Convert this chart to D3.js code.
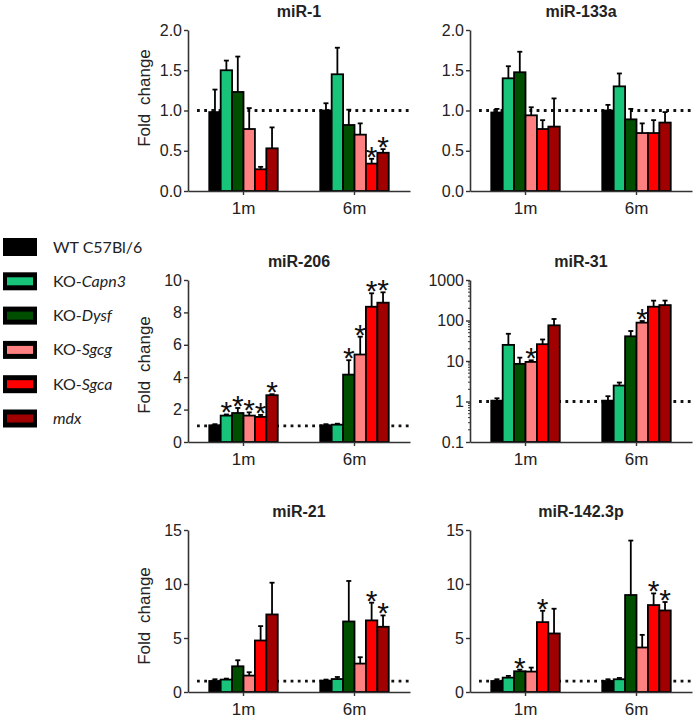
<!DOCTYPE html>
<html><head><meta charset="utf-8">
<script src="https://cdn.jsdelivr.net/npm/d3@7"></script>
<style>
body{margin:0;background:#fff;}
svg{display:block;font-family:"Liberation Sans",Arial,sans-serif;}
</style>
</head><body><svg id="c" width="697" height="721"></svg>
<script>
const groups = ["1m", "6m"];
const strains = ["WT C57Bl/6", "KO-Capn3", "KO-Dysf", "KO-Sgcg", "KO-Sgca", "mdx"];
const legendPrefix = ["WT C57Bl/6", "KO-", "KO-", "KO-", "KO-", ""];
const legendItalic = ["", "Capn3", "Dysf", "Sgcg", "Sgca", "mdx"];
const colors = ["#000000", "#17c47a", "#004f00", "#ff8080", "#ff0000", "#a00000"];

// mean values per group (1m, 6m), strain order as above
const mir1Mean = [[0.98, 1.50, 1.23, 0.77, 0.27, 0.53], [1.00, 1.45, 0.82, 0.70, 0.34, 0.475]];
const mir1Err = [[0.28, 0.12, 0.44, 0.26, 0.03, 0.26], [0.09, 0.33, 0.19, 0.14, 0.06, 0.045]];
const mir1Stars = [[], [4, 5]];
const mir1Ticks = [0, 0.5, 1.0, 1.5, 2.0];

const mir133Mean = [[0.975, 1.40, 1.475, 0.94, 0.77, 0.80], [1.00, 1.30, 0.89, 0.72, 0.72, 0.85]];
const mir133Err = [[0.045, 0.15, 0.255, 0.10, 0.11, 0.35], [0.07, 0.16, 0.13, 0.12, 0.16, 0.13]];
const mir133Stars = [[], []];
const mir133Ticks = [0, 0.5, 1.0, 1.5, 2.0];

const mir206Mean = [[1.03, 1.63, 1.79, 1.63, 1.55, 2.89], [1.03, 1.07, 4.16, 5.40, 8.35, 8.60]];
const mir206Err = [[0.07, 0.07, 0.31, 0.20, 0.12, 0.06], [0.07, 0.06, 0.89, 1.10, 0.83, 0.64]];
const mir206Stars = [[1, 2, 3, 4, 5], [2, 3, 4, 5]];
const mir206Ticks = [0, 2, 4, 6, 8, 10];

const mir31Mean = [[1.05, 25, 8.5, 9.5, 26, 76], [1.05, 2.48, 40.7, 88.5, 219, 240]];
const mir31Err = [[0.15, 22, 3.6, 0.9, 8, 33], [0.3, 0.46, 14.3, 8.5, 90, 70]];
const mir31Stars = [[3], [3]];
const mir31Ticks = [0.1, 1, 10, 100, 1000];

const mir21Mean = [[1.02, 1.15, 2.38, 1.52, 4.77, 7.18], [1.05, 1.20, 6.53, 2.63, 6.63, 6.04]];
const mir21Err = [[0.16, 0.09, 0.56, 0.31, 1.33, 2.94], [0.10, 0.19, 3.75, 0.59, 1.64, 1.05]];
const mir21Stars = [[], [4, 5]];
const mir21Ticks = [0, 5, 10, 15];

const mir142Mean = [[1.02, 1.33, 1.92, 1.89, 6.47, 5.42], [1.02, 1.18, 8.98, 4.12, 8.05, 7.55]];
const mir142Err = [[0.16, 0.16, 0.15, 0.37, 1.05, 2.29], [0.16, 0.12, 5.04, 1.17, 1.08, 0.78]];
const mir142Stars = [[2, 4], [4, 5]];
const mir142Ticks = [0, 5, 10, 15];

const panels = [
  {title: "miR-1", mean: mir1Mean, err: mir1Err, stars: mir1Stars, ticks: mir1Ticks, log: false, fmt: d3.format(".1f"), col: 0, row: 0},
  {title: "miR-133a", mean: mir133Mean, err: mir133Err, stars: mir133Stars, ticks: mir133Ticks, log: false, fmt: d3.format(".1f"), col: 1, row: 0},
  {title: "miR-206", mean: mir206Mean, err: mir206Err, stars: mir206Stars, ticks: mir206Ticks, log: false, fmt: d3.format("d"), col: 0, row: 1},
  {title: "miR-31", mean: mir31Mean, err: mir31Err, stars: mir31Stars, ticks: mir31Ticks, log: true, fmt: d => String(d), col: 1, row: 1},
  {title: "miR-21", mean: mir21Mean, err: mir21Err, stars: mir21Stars, ticks: mir21Ticks, log: false, fmt: d3.format("d"), col: 0, row: 2},
  {title: "miR-142.3p", mean: mir142Mean, err: mir142Err, stars: mir142Stars, ticks: mir142Ticks, log: false, fmt: d3.format("d"), col: 1, row: 2}
];

// layout
const colX = [188, 470];
const plotW = 222;
const rowY = [[30, 191], [280, 442], [530, 692]];
const ylabelY = [98, 365, 616];
const axisColor = "#333";
const textColor = "#222";

const svg = d3.select("#c");

panels.forEach(p => {
  const x0 = colX[p.col];
  const [top, bottom] = rowY[p.row];
  const g = svg.append("g");

  const xg = d3.scaleBand().domain(groups).range([x0, x0 + plotW]).paddingInner(0.383).paddingOuter(0.1915);
  const xs = d3.scaleBand().domain(d3.range(strains.length)).range([0, xg.bandwidth()]);
  const y = p.log
    ? d3.scaleLog().domain([p.ticks[0], p.ticks[p.ticks.length - 1]]).range([bottom, top])
    : d3.scaleLinear().domain([0, p.ticks[p.ticks.length - 1]]).range([bottom, top]);
  const base = p.log ? p.ticks[0] : 0;

  // dotted reference line at 1
  g.append("line")
    .attr("x1", x0 + 9).attr("x2", x0 + plotW)
    .attr("y1", y(1)).attr("y2", y(1))
    .attr("stroke", "#111").attr("stroke-width", 2.8)
    .attr("stroke-dasharray", "2.8,4.4");

  groups.forEach((grp, gi) => {
    const gg = g.append("g");
    const rows = p.mean[gi].map((m, i) => ({i, m, e: p.err[gi][i]}));
    // error bars
    rows.forEach(r => {
      const cx = xg(grp) + xs(r.i) + xs.bandwidth() / 2;
      gg.append("line").attr("x1", cx).attr("x2", cx)
        .attr("y1", y(r.m)).attr("y2", y(r.m + r.e))
        .attr("stroke", "#000").attr("stroke-width", 1.8);
      gg.append("line").attr("x1", cx - 2.5).attr("x2", cx + 2.5)
        .attr("y1", y(r.m + r.e)).attr("y2", y(r.m + r.e))
        .attr("stroke", "#000").attr("stroke-width", 1.8);
    });
    gg.selectAll("rect").data(rows).join("rect")
      .attr("x", d => xg(grp) + xs(d.i))
      .attr("width", xs.bandwidth())
      .attr("y", d => y(d.m))
      .attr("height", d => y(base) - y(d.m))
      .attr("fill", d => colors[d.i])
      .attr("stroke", "#000").attr("stroke-width", 1.8);
    p.stars[gi].forEach(i => {
      const cx = xg(grp) + xs(i) + xs.bandwidth() / 2;
      gg.append("text").attr("x", cx).attr("y", y(p.mean[gi][i] + p.err[gi][i]) + 8)
        .attr("text-anchor", "middle").attr("font-size", 30).attr("fill", "#111")
        .text("*");
    });
  });

  // y axis
  const ya = d3.axisLeft(y).tickValues(p.ticks).tickFormat(p.fmt).tickSize(4).tickPadding(2).tickSizeOuter(0);
  const yg = g.append("g").attr("transform", `translate(${x0},0)`).call(ya);
  if (p.log) {
    const minor = [];
    for (let d = 0.1; d < 1000; d *= 10) for (let k = 2; k <= 9; k++) minor.push(d * k);
    yg.selectAll(".minor").data(minor).join("line").attr("class", "minor")
      .attr("x1", -2).attr("x2", 0).attr("y1", d => y(d)).attr("y2", d => y(d))
      .attr("stroke", axisColor).attr("stroke-width", 1);
  }
  // x axis
  const xa = d3.axisBottom(xg).tickSize(4).tickPadding(7).tickSizeOuter(0);
  const xgEl = g.append("g").attr("transform", `translate(0,${bottom})`).call(xa);

  [yg, xgEl].forEach(a => {
    a.attr("font-family", "Liberation Sans, Arial, sans-serif");
    a.select(".domain").attr("stroke", axisColor).attr("stroke-width", 1.6);
    a.selectAll(".tick line").attr("stroke", axisColor).attr("stroke-width", 1.4);
    a.selectAll("text").attr("font-size", 16).attr("fill", textColor);
  });
  xgEl.selectAll("text").attr("font-size", 17);

  // title
  g.append("text").attr("x", x0 + plotW / 2).attr("y", top - 13)
    .attr("text-anchor", "middle").attr("font-weight", "bold").attr("font-size", 16)
    .attr("fill", textColor).text(p.title);

  if (p.col === 0) {
    g.append("text").attr("transform", `translate(150,${ylabelY[p.row]}) rotate(-90)`)
      .attr("text-anchor", "middle").attr("font-size", 17).attr("fill", textColor)
      .attr("word-spacing", 4).text("Fold change");
  }
});

// legend
const leg = svg.append("g");
strains.forEach((s, i) => {
  const cy = 247 + i * 34.3;
  leg.append("rect").attr("x", 3).attr("y", cy - 9).attr("width", 34).attr("height", 18).attr("fill", "#000");
  leg.append("rect").attr("x", 7).attr("y", cy - 4).attr("width", 26).attr("height", 8).attr("fill", colors[i]);
  const t = leg.append("text").attr("x", 53).attr("y", cy + 5.5)
    .attr("font-family", "Lato, 'Open Sans', sans-serif").attr("font-size", 16).attr("fill", textColor);
  if (legendPrefix[i]) t.append("tspan").text(legendPrefix[i]);
  if (legendItalic[i]) t.append("tspan").attr("font-style", "italic").text(legendItalic[i]);
});
</script>
</body></html>
